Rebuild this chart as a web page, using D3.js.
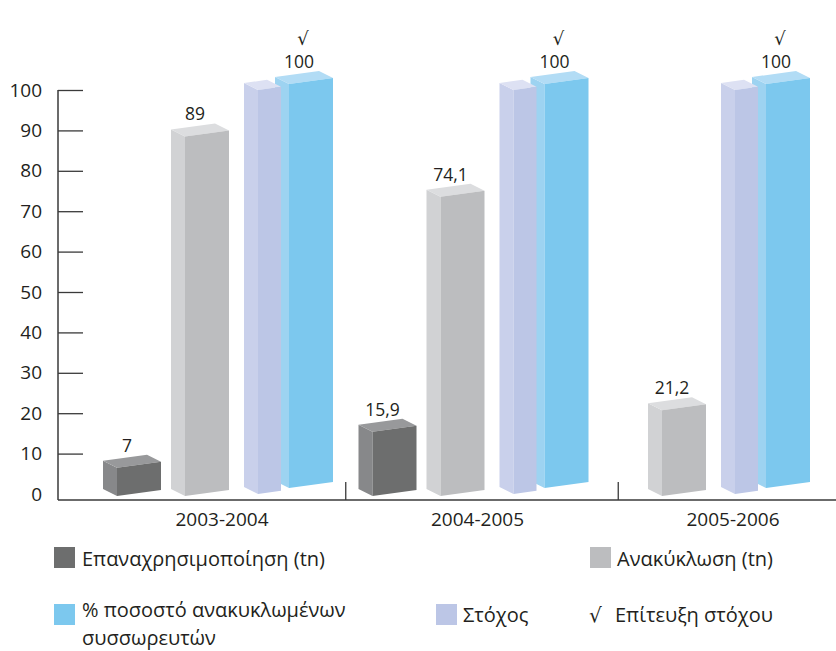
<!DOCTYPE html>
<html>
<head>
<meta charset="utf-8">
<script src="https://cdn.jsdelivr.net/npm/d3@7"></script>
<style>
  body { margin: 0; background: #fff; }
  svg { display: block; }
  text { font-family: "Open Sans", "Noto Sans", sans-serif; fill: #231f20; }
</style>
</head>
<body>
<svg id="chart" width="836" height="651"></svg>
<script>
// Battery collection figures per period
const years = ["2003-2004", "2004-2005", "2005-2006"];
const reuseTn = [7, 15.9, null];          // Επαναχρησιμοποίηση (tn)
const recyclingTn = [89, 74.1, 21.2];     // Ανακύκλωση (tn)
const targetPct = [100, 100, 100];        // Στόχος
const recycledPct = [100, 100, 100];      // % ποσοστό ανακυκλωμένων συσσωρευτών
const targetMet = [true, true, true];     // Επίτευξη στόχου
const yTickValues = [0, 10, 20, 30, 40, 50, 60, 70, 80, 90, 100];

const svg = d3.select("#chart");
const W = 836, H = 651;
const axisX = 58, baseY = 500;

const y = d3.scaleLinear().domain([0, 100]).range([494, 90]);
const xGroup = d3.scalePoint().domain(years).range([218, 729]);

const el = d3.formatLocale({ decimal: ",", thousands: ".", grouping: [3], currency: ["", "€"] });
const fmt = el.format("");

// box styling: face colours, front width, gap from previous box, baseline drop (depth), paint order
const series = [
  { key: "reuse", values: reuseTn, front: "#6d6e6e", side: "#87888a", top: "#98999b",
    width: 44, gap: 0, drop: 2, z: 0, label: true },
  { key: "recycling", values: recyclingTn, front: "#bcbdbf", side: "#d1d2d4", top: "#dcdddf",
    width: 44, gap: 68, drop: 2, z: 1, label: true },
  { key: "target", values: targetPct, front: "#bcc6e6", side: "#c9d0eb", top: "#dde1f3",
    width: 23, gap: 73, drop: 0, z: 3, label: false },
  { key: "recycled", values: recycledPct, front: "#7cc8ee", side: "#9dd3f1", top: "#b2dcf5",
    width: 44, gap: 31, drop: -6, z: 2, label: true, check: targetMet }
];

const depthX = -14, depthY = -7;
const slope = 6 / 44;

// per-group layout of the boxes that have a value
const boxes = [];
const blocks = [];
years.forEach((yr, i) => {
  const present = series.filter(s => s.values[i] != null);
  let pos = 0;
  const rel = present.map((s, k) => { if (k > 0) pos += s.gap; return { s, fx: pos }; });
  const left = depthX, last = rel[rel.length - 1];
  const right = last.fx + last.s.width;
  const off = xGroup(yr) - (left + right) / 2;
  blocks.push({ left: left + off, right: right + off });
  rel.forEach(r => boxes.push({
    s: r.s, i, value: r.s.values[i],
    fx: r.fx + off, fy: y(0) + r.s.drop, w: r.s.width,
    h: y(0) - y(r.s.values[i])
  }));
});

// y axis
const yAxis = d3.axisLeft(y).tickValues(yTickValues).tickSize(-25).tickPadding(16).tickSizeOuter(0);
const gy = svg.append("g").attr("transform", `translate(${axisX},0)`).call(yAxis);
gy.select(".domain").remove();
gy.selectAll(".tick line").attr("stroke", "#3a3a3a").attr("stroke-width", 1.3)
  .filter(d => d === 0).remove();
gy.selectAll(".tick text").attr("font-size", 19).attr("fill", "#231f20")
  .style("font-family", '"Open Sans", sans-serif');

svg.append("line").attr("x1", axisX).attr("x2", axisX).attr("y1", y(100)).attr("y2", baseY)
  .attr("stroke", "#3a3a3a").attr("stroke-width", 1.5);
svg.append("line").attr("x1", axisX).attr("x2", W).attr("y1", baseY).attr("y2", baseY)
  .attr("stroke", "#3a3a3a").attr("stroke-width", 1.5);

// group dividers between neighbouring blocks
d3.pairs(blocks).forEach(([a, b]) => {
  const xm = (a.right + b.left) / 2;
  svg.append("line").attr("x1", xm).attr("x2", xm).attr("y1", baseY - 18).attr("y2", baseY)
    .attr("stroke", "#3a3a3a").attr("stroke-width", 1.3);
});

// year labels
svg.append("g").selectAll("text").data(years).join("text")
  .attr("x", d => xGroup(d) + 4).attr("y", 526)
  .attr("text-anchor", "middle").attr("font-size", 19).text(d => d);

// 3D boxes
const pts = a => a.map(p => p.join(",")).join(" ");
const gBars = svg.append("g");
boxes.sort((a, b) => a.i - b.i || a.s.z - b.s.z).forEach(b => {
  const { fx, fy, w, h } = b;
  const rise = slope * w;
  const g = gBars.append("g");
  g.append("polygon").attr("fill", b.s.side).attr("points", pts([
    [fx, fy], [fx, fy - h], [fx + depthX, fy - h + depthY], [fx + depthX, fy + depthY]]));
  g.append("polygon").attr("fill", b.s.top).attr("points", pts([
    [fx, fy - h], [fx + w, fy - h - rise], [fx + w + depthX, fy - h - rise + depthY], [fx + depthX, fy - h + depthY]]));
  g.append("polygon").attr("fill", b.s.front).attr("points", pts([
    [fx, fy], [fx + w, fy - rise], [fx + w, fy - h - rise], [fx, fy - h]]));
});

// value labels and target marks
const gLab = svg.append("g");
boxes.filter(b => b.s.label).forEach(b => {
  const lx = b.fx + b.w / 2 - 12;
  const ly = b.fy - b.h - slope * b.w + depthY - 3;
  gLab.append("text").attr("x", lx).attr("y", ly).attr("text-anchor", "middle")
    .attr("font-size", 17.5).text(fmt(b.value));
  if (b.s.check && b.s.check[b.i]) {
    gLab.append("text").attr("x", lx + 4).attr("y", ly - 23).attr("text-anchor", "middle")
      .attr("font-size", 18).style("font-family", '"DejaVu Sans", sans-serif').text("√");
  }
});

// legend
const legend = svg.append("g");
const swatch = (x, yy, c) => legend.append("rect").attr("x", x).attr("y", yy).attr("width", 21).attr("height", 21).attr("fill", c);
const ltext = (x, yy, lines) => {
  const t = legend.append("text").attr("x", x).attr("y", yy).attr("font-size", 20);
  [].concat(lines).forEach((ln, k) => t.append("tspan").attr("x", x).attr("dy", k ? 27.5 : 0).text(ln));
  return t;
};

swatch(54, 547, series[0].front); ltext(82, 566, "Επαναχρησιμοποίηση (tn)");
swatch(590, 547, series[1].front); ltext(617, 566, "Ανακύκλωση (tn)");
swatch(54, 604, series[3].front); ltext(82, 617, ["% ποσοστό ανακυκλωμένων", "συσσωρευτών"]);
swatch(436, 604, series[2].front); ltext(463, 622, "Στόχος");
legend.append("text").attr("x", 589).attr("y", 622).attr("font-size", 20)
  .style("font-family", '"DejaVu Sans", sans-serif').text("√");
ltext(615, 622, "Επίτευξη στόχου");
</script>
</body>
</html>
